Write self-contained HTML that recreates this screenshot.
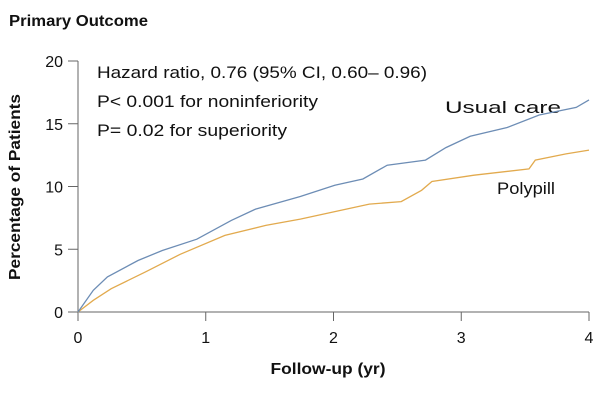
<!DOCTYPE html>
<html><head><meta charset="utf-8"><style>
body{margin:0;background:#fff;width:600px;height:400px;overflow:hidden}
svg text{font-family:"Liberation Sans",sans-serif}
</style></head><body>
<svg id="c" width="600" height="400">
<text x="9" y="26" font-size="16" font-weight="bold" fill="#111" textLength="139" lengthAdjust="spacingAndGlyphs">Primary Outcome</text>
<text transform="translate(20,187) rotate(-90)" text-anchor="middle" font-size="16" font-weight="bold" fill="#111" textLength="186" lengthAdjust="spacingAndGlyphs">Percentage of Patients</text>
<text x="328" y="374" text-anchor="middle" font-size="16" font-weight="bold" fill="#111" textLength="115" lengthAdjust="spacingAndGlyphs">Follow-up (yr)</text>
<g id="ax" stroke="#666" stroke-width="1"></g>
<g id="lab" font-size="16" fill="#111"></g>
<text x="97" y="78" font-size="17" fill="#111" textLength="330" lengthAdjust="spacingAndGlyphs">Hazard ratio, 0.76 (95% CI, 0.60– 0.96)</text>
<text x="97" y="107" font-size="17" fill="#111" textLength="221" lengthAdjust="spacingAndGlyphs">P&lt; 0.001 for noninferiority</text>
<text x="97" y="136" font-size="17" fill="#111" textLength="190" lengthAdjust="spacingAndGlyphs">P= 0.02 for superiority</text>
<text x="445" y="113" font-size="17" fill="#111" textLength="116" lengthAdjust="spacingAndGlyphs">Usual care</text>
<text x="497" y="194" font-size="17" fill="#111" textLength="58" lengthAdjust="spacingAndGlyphs">Polypill</text>
</svg>
<script>
const xTicks=[0,1,2,3,4];
const yTicks=[0,5,10,15,20];
const usualX=[0,0.12,0.23,0.47,0.66,0.93,1.2,1.39,1.74,2.01,2.23,2.42,2.72,2.88,3.07,3.36,3.61,3.9,4];
const usualY=[0,1.73,2.8,4.1,4.9,5.8,7.3,8.2,9.2,10.1,10.6,11.7,12.1,13.1,14.0,14.7,15.7,16.3,16.9];
const polyX=[0,0.12,0.26,0.53,0.8,1.15,1.47,1.74,2.01,2.28,2.53,2.69,2.77,3.1,3.53,3.58,3.82,4];
const polyY=[0,0.93,1.86,3.2,4.6,6.1,6.9,7.4,8.0,8.6,8.8,9.7,10.4,10.9,11.4,12.1,12.6,12.9];
const sx=v=>78+v*(589-78)/4, sy=v=>312-v*(312-61)/20;
const NS="http://www.w3.org/2000/svg",svg=document.getElementById('c'),ax=document.getElementById('ax'),lab=document.getElementById('lab');
function mk(t,a,p){const e=document.createElementNS(NS,t);for(const k in a)e.setAttribute(k,a[k]);p.appendChild(e);return e;}
let e=mk('line',{x1:78,y1:sy(20),x2:78,y2:312},ax);


e=mk('line',{x1:78,y1:312,x2:589,y2:312},ax);


yTicks.forEach(v=>{const t=mk('line',{x1:68,x2:78,y1:sy(v),y2:sy(v)},ax);


const l=mk('text',{x:63,y:sy(v)+6,'text-anchor':'end'},lab);l.textContent=v;

});
xTicks.forEach(v=>{const t=mk('line',{x1:sx(v),x2:sx(v),y1:312,y2:321},ax);


const l=mk('text',{x:sx(v),y:343,'text-anchor':'middle'},lab);l.textContent=v;

});
function line(X,Y,col,name){let d='';X.forEach((x,i)=>{d+=(i?'L':'M')+sx(x).toFixed(1)+','+sy(Y[i]).toFixed(1);});
const p=mk('path',{d:d,fill:'none',stroke:col,'stroke-width':1.3},svg);

}
line(polyX,polyY,'#e2aa4e','polypill-line');
line(usualX,usualY,'#6d8db5','usual-care-line');
</script>
</body></html>
